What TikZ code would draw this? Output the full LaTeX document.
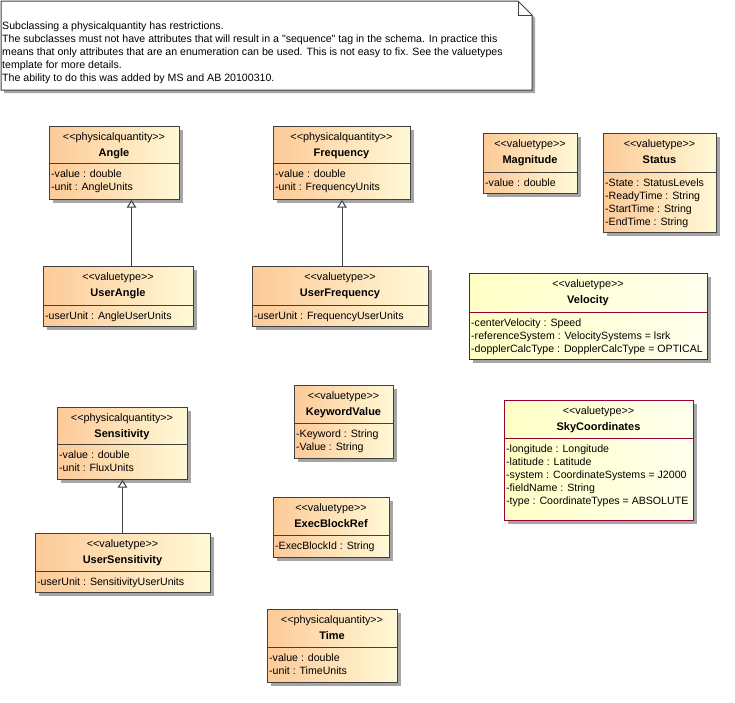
\documentclass[tikz,border=0pt]{standalone}
\usepackage{fontspec}
\setmainfont{Liberation Sans}[Ligatures=TeXOff]
\usetikzlibrary{shadows,arrows.meta}
\definecolor{orgA}{RGB}{253,202,152}
\definecolor{orgB}{RGB}{255,249,214}
\definecolor{ylwA}{RGB}{255,255,196}
\definecolor{ylwB}{RGB}{255,255,238}
\definecolor{bordr}{RGB}{64,64,64}
\definecolor{redb}{RGB}{153,0,51}
\definecolor{shad}{RGB}{165,165,165}
\tikzset{
  shadowed/.style={drop shadow={shadow xshift=3pt,shadow yshift=-3pt,fill=shad,opacity=1}},
  classbox/.style={draw=bordr, line width=1pt, left color=orgA, right color=orgB, shadowed, inner sep=0pt},
  valbox/.style={draw=redb, line width=1pt, left color=ylwA, right color=ylwB, shadowed, inner sep=0pt},
  classboxline/.style={draw=bordr, line width=1pt},
  valboxline/.style={draw=redb, line width=1pt},
  stereo/.style={font=\fontsize{10.8}{12}\selectfont, inner sep=0pt},
  ctitle/.style={font=\fontsize{11}{13}\selectfont\bfseries, inner sep=0pt},
  attr/.style={font=\fontsize{10.6}{13}\selectfont, inner sep=0pt},
  notetext/.style={font=\fontsize{10.6}{13}\selectfont, inner sep=0pt, anchor=base west},
  gen/.style={draw=bordr, line width=1pt, -{Triangle[length=7.5pt,width=9.5pt,fill=white,line width=1pt]}},
}
\newcommand\umlbox[9]{%
  \node[#2, anchor=north west, minimum width={(#5-#3)*1pt}, minimum height={(#6-#4)*1pt}] (#1) at (#3,#4) {};
  \draw[#2line] (#3,#7) -- (#5,#7);
  \node[stereo, anchor=base] (#1-st) at ({(#3+#5)/2},#4+14.5) {#8};
  \node[ctitle, anchor=base] (#1-nm) at ({(#3+#5)/2},#4+30) {#9};
}
\newcommand\umlattrs[4]{%
  \foreach \t [count=\i] in {#4} {\node[attr, anchor=base west] (#1-a\i) at (#2+2,#3+14+13*\i-13) {\t};}
}
\begin{document}
\begin{tikzpicture}[x=1pt,y=-1pt]
\useasboundingbox (0,0) rectangle (735,702);
% note
\draw[draw=bordr, line width=1pt, fill=white, shadowed] (1,1) -- (518,1) -- (532,15) -- (532,90) -- (1,90) -- cycle;
\draw[draw=bordr, line width=1pt] (518,1) -- (518,15) -- (532,15);
\node[notetext] (note1) at (2,29) {Subclassing a physicalquantity has restrictions.};
\node[notetext] (note2) at (2,42) {The subclasses must not have attributes that will result in a "sequence" tag in the schema. In practice this};
\node[notetext] (note3) at (2,55) {means that only attributes that are an enumeration can be used. This is not easy to fix. See the valuetypes};
\node[notetext] (note4) at (2,68) {template for more details.};
\node[notetext] (note5) at (2,81) {The ability to do this was added by MS and AB 20100310.};

\umlbox{Angle}{classbox}{49}{126}{179}{199}{163}{<<physicalquantity>>}{Angle}
\umlattrs{Angle}{49}{163}{-value : double, -unit : AngleUnits}
\umlbox{Frequency}{classbox}{273}{126}{410}{199}{163}{<<physicalquantity>>}{Frequency}
\umlattrs{Frequency}{273}{163}{-value : double, -unit : FrequencyUnits}
\umlbox{UserAngle}{classbox}{43}{266}{193}{326}{305}{<<valuetype>>}{UserAngle}
\umlattrs{UserAngle}{43}{305}{-userUnit : AngleUserUnits}
\umlbox{UserFrequency}{classbox}{252}{266}{428}{326}{305}{<<valuetype>>}{UserFrequency}
\umlattrs{UserFrequency}{252}{305}{-userUnit : FrequencyUserUnits}
\umlbox{Magnitude}{classbox}{483}{133}{577}{193}{172}{<<valuetype>>}{Magnitude}
\umlattrs{Magnitude}{483}{172}{-value : double}
\umlbox{Status}{classbox}{603}{133}{716}{232}{172}{<<valuetype>>}{Status}
\umlattrs{Status}{603}{172}{-State : StatusLevels, -ReadyTime : String, -StartTime : String, -EndTime : String}
\umlbox{Velocity}{valbox}{469}{273}{707}{359}{312}{<<valuetype>>}{Velocity}
\umlattrs{Velocity}{469}{312}{-centerVelocity : Speed, -referenceSystem : VelocitySystems = lsrk, -dopplerCalcType : DopplerCalcType = OPTICAL}
\umlbox{Sensitivity}{classbox}{57}{407}{187}{479}{444}{<<physicalquantity>>}{Sensitivity}
\umlattrs{Sensitivity}{57}{444}{-value : double, -unit : FluxUnits}
\umlbox{UserSensitivity}{classbox}{35}{533}{210}{592}{571}{<<valuetype>>}{UserSensitivity}
\umlattrs{UserSensitivity}{35}{571}{-userUnit : SensitivityUserUnits}
\umlbox{KeywordValue}{classbox}{294}{385}{393}{458}{423}{<<valuetype>>}{KeywordValue}
\umlattrs{KeywordValue}{294}{423}{-Keyword : String, -Value : String}
\umlbox{ExecBlockRef}{classbox}{273}{497}{389}{557}{535}{<<valuetype>>}{ExecBlockRef}
\umlattrs{ExecBlockRef}{273}{535}{-ExecBlockId : String}
\umlbox{Time}{classbox}{267}{609}{397}{682}{647}{<<physicalquantity>>}{Time}
\umlattrs{Time}{267}{647}{-value : double, -unit : TimeUnits}
\umlbox{SkyCoordinates}{valbox}{504}{400}{693}{520}{438}{<<valuetype>>}{SkyCoordinates}
\umlattrs{SkyCoordinates}{504}{438}{-longitude : Longitude, -latitude : Latitude, -system : CoordinateSystems = J2000, -fieldName : String, -type : CoordinateTypes = ABSOLUTE}

% generalizations
\draw[gen] ([xshift=13pt]UserAngle.north) -- ([xshift=13pt]UserAngle.north |- Angle.south);
\draw[gen] (UserFrequency.north -| Frequency.south) -- (Frequency.south);
\draw[gen] (UserSensitivity.north -| Sensitivity.south) -- (Sensitivity.south);
\end{tikzpicture}
\end{document}
